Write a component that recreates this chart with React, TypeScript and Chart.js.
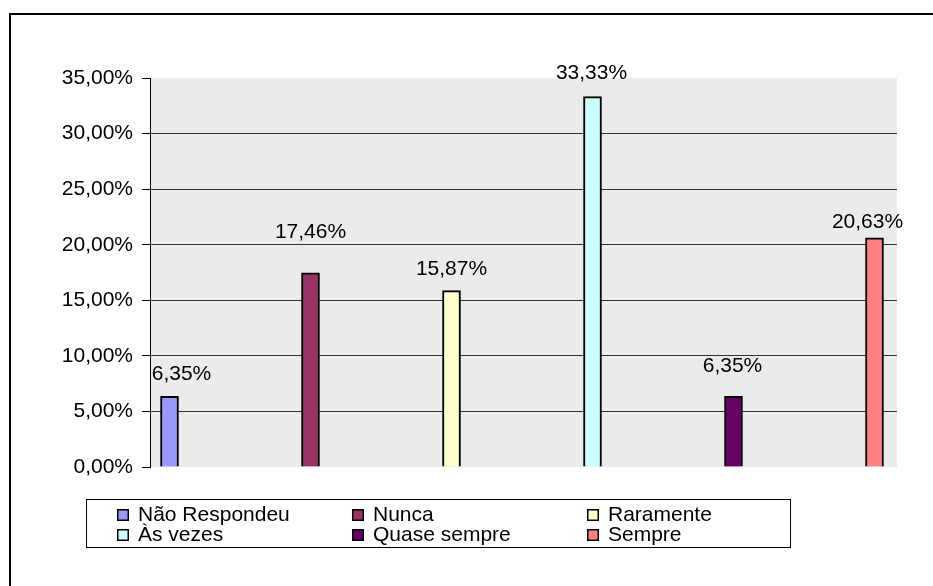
import { useEffect, useRef } from "react";
import { Chart, registerables } from "chart.js";

Chart.register(...registerables);

// ---- data ----
const categories = ["Não Respondeu", "Nunca", "Raramente", "Às vezes", "Quase sempre", "Sempre"];
const values = [6.35, 17.46, 15.87, 33.33, 6.35, 20.63];
const colors = ["#9999FF", "#993366", "#FFFFCC", "#CCFFFF", "#660066", "#FF8080"];
const yTicks = [0, 5, 10, 15, 20, 25, 30, 35];

// ---- styles (label placement as in the original, manually moved labels) ----
const labelGap = [22, 41, 21, 23, 30, 16];
const labelShift = [12, 0, 0, -1, -1, -7];

const FONT = '"Liberation Sans", Arial, Helvetica, sans-serif';
const fmt = (v: number) => v.toFixed(2).replace(".", ",") + "%";

const plotBg = {
  id: "plotBg",
  beforeDraw(chart: any) {
    const { ctx, chartArea } = chart;
    ctx.save();
    ctx.fillStyle = "#EBEBEB";
    ctx.fillRect(chartArea.left, chartArea.top, chartArea.right - chartArea.left, chartArea.bottom - chartArea.top);
    ctx.restore();
  },
};

const dataLabels = {
  id: "dataLabels",
  afterDatasetsDraw(chart: any) {
    const { ctx } = chart;
    ctx.save();
    ctx.font = `21px ${FONT}`;
    ctx.fillStyle = "#000";
    ctx.textAlign = "center";
    ctx.textBaseline = "middle";
    chart.data.datasets.forEach((ds: any, i: number) => {
      const el = chart.getDatasetMeta(i).data[0];
      if (!el) return;
      ctx.fillText(fmt(ds.data[0].y), el.x + labelShift[i], el.y - labelGap[i]);
    });
    ctx.restore();
  },
};

const customLegend = {
  id: "customLegend",
  afterDraw(chart: any) {
    const { ctx } = chart;
    ctx.save();
    // outer frame (top + left visible)
    ctx.fillStyle = "#000";
    ctx.fillRect(9, 13, 924, 2);
    ctx.fillRect(9, 13, 2, 573);
    // legend box
    ctx.strokeStyle = "#000";
    ctx.lineWidth = 1;
    ctx.strokeRect(86.5, 499.5, 704, 48);
    ctx.font = `21px ${FONT}`;
    ctx.textAlign = "left";
    ctx.textBaseline = "alphabetic";
    chart.data.datasets.forEach((ds: any, i: number) => {
      const col = i % 3;
      const row = Math.floor(i / 3);
      const mx = 117 + col * 235;
      const my = 509 + row * 20;
      ctx.fillStyle = ds.backgroundColor;
      ctx.fillRect(mx, my, 12, 12);
      ctx.lineWidth = 1.5;
      ctx.strokeStyle = "#000";
      ctx.strokeRect(mx + 0.75, my + 0.75, 10.5, 10.5);
      ctx.fillStyle = "#000";
      ctx.fillText(ds.label, mx + 21, 521 + row * 20);
    });
    ctx.restore();
  },
};

export default function App() {
  const ref = useRef<HTMLCanvasElement | null>(null);

  useEffect(() => {
    if (!ref.current) return;
    const chart = new Chart(ref.current, {
      type: "bar",
      data: {
        datasets: categories.map((c, i) => ({
          label: c,
          data: [{ x: i, y: values[i] }],
          backgroundColor: colors[i],
          borderColor: "#000",
          borderWidth: 2,
          barThickness: 18,
          grouped: false,
        })),
      } as any,
      options: {
        animation: false,
        responsive: false,
        devicePixelRatio: 1,
        layout: { padding: { left: 0, right: 36, top: 78, bottom: 119 } },
        plugins: {
          legend: { display: false },
          tooltip: { enabled: false },
          title: { display: false },
        },
        scales: {
          x: {
            type: "linear",
            display: false,
            offset: false,
            bounds: "ticks",
            min: -0.1383,
            max: 5.1596,
            grid: { offset: false },
          },
          y: {
            min: 0,
            max: 35,
            afterFit(scale: any) {
              scale.width = 150;
            },
            afterBuildTicks(scale: any) {
              scale.ticks = yTicks.map((v) => ({ value: v }));
            },
            ticks: {
              callback: (v: any) => fmt(Number(v)),
              font: { family: FONT, size: 21 },
              color: "#000",
              padding: 9,
            },
            grid: {
              color: (c: any) =>
                c.tick && (c.tick.value === 0 || c.tick.value === 35) ? "rgba(0,0,0,0)" : "#333333",
              lineWidth: 1,
              tickLength: 8,
              tickColor: "#000",
              drawTicks: true,
            },
            border: { display: true, color: "#000", width: 1 },
          },
        },
      } as any,
      plugins: [plotBg, dataLabels, customLegend],
    });
    return () => chart.destroy();
  }, []);

  return (
    <div style={{ position: "fixed", left: 0, top: 0, width: 933, height: 586, background: "#fff" }}>
      <canvas ref={ref} width={933} height={586} style={{ display: "block" }} />
    </div>
  );
}
